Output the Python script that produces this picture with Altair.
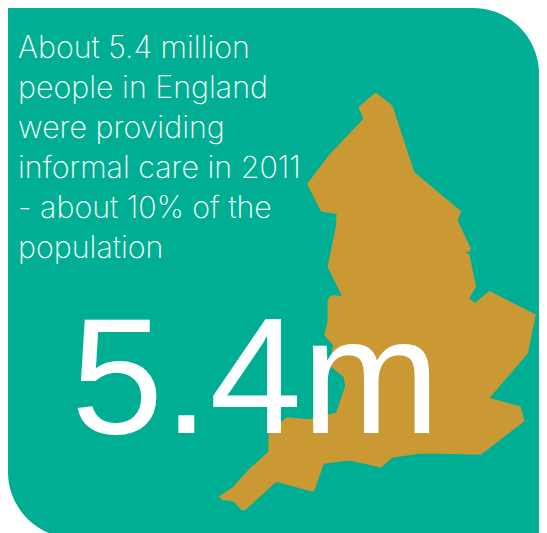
import altair as alt
import pandas as pd

W, H = 547, 533
TEAL = "#00AF93"
GOLD = "#CB9934"

# Outline of England, clockwise from the Northumberland coast
england_x = [375.7, 391.7, 413.7, 460.3, 456.7, 470, 468.3, 461, 468.7, 475.3, 468.3, 475, 489.3,
             535, 527.3, 488.3, 520, 523.7, 480.7, 453.3, 420.7, 391.7, 381, 350, 323.3, 313.3,
             276, 245, 241.7, 234, 222.7, 220, 232.7, 250, 269, 269.3, 286.7, 310, 336.7, 346,
             344.3, 330, 334, 325, 328.3, 328.3, 331.7, 343.3, 328.3, 336.7, 337.3, 321.7, 308,
             330, 364.3, 359.3, 375.7]
england_y = [93.3, 106, 172.7, 211.7, 220.7, 248.3, 251.3, 250.3, 255, 286.7, 298.3, 304, 291.7,
             315, 352.7, 398.3, 407.3, 420.7, 454, 453.3, 452.7, 457, 466.7, 459.7, 463, 491,
             481, 509.3, 509.3, 500.7, 499.3, 496.7, 488.3, 469.3, 452, 434, 418, 420, 413.3, 386,
             376.7, 365, 345, 335, 321.7, 300, 296, 296.7, 266.7, 226.7, 213.3, 211, 184,
             155, 119, 107.3, 93.3]
order = list(range(len(england_x)))

caption_lines = [
    "About 5.4 million",
    "people in England",
    "were providing",
    "informal care in 2011",
    "- about 10% of the",
    "population",
]
headline = "5.4m"

x_scale = alt.Scale(domain=[0, W], nice=False, zero=False)
y_scale = alt.Scale(domain=[H, 0], nice=False, zero=False)
x_enc = alt.X("x:Q", scale=x_scale, axis=None)
y_enc = alt.Y("y:Q", scale=y_scale, axis=None)

panel = (
    alt.Chart(pd.DataFrame({"x": [8], "x2": [539], "y": [8], "y2": [538]}))
    .mark_rect(color=TEAL, cornerRadiusTopRight=66, cornerRadiusBottomLeft=66)
    .encode(x=x_enc, x2="x2:Q", y=y_enc, y2="y2:Q")
)

country = (
    alt.Chart(pd.DataFrame({"x": england_x, "y": england_y, "o": order}))
    .mark_line(fill=GOLD, stroke=GOLD, strokeWidth=1.5, strokeJoin="round", clip=False)
    .encode(x=x_enc, y=y_enc, order="o:Q")
)

caption = (
    alt.Chart(pd.DataFrame({"line": caption_lines, "n": range(len(caption_lines))}))
    .transform_calculate(px="58 + 40 * datum.n")
    .mark_text(font="Inter", fontWeight=200, fontSize=30.4, color="white", align="left", baseline="alphabetic")
    .encode(x=alt.value(18), y=alt.Y("px:Q", scale=y_scale, axis=None), text="line:N")
)

big = (
    alt.Chart(pd.DataFrame({"t": [headline]}))
    .mark_text(font="Liberation Sans", fontSize=166, color="white", align="left", baseline="alphabetic")
    .encode(x=alt.value(71), y=alt.value(433), text="t:N")
)

chart = (
    alt.layer(panel, country, caption, big)
    .properties(width=W, height=H, padding=0, autosize=alt.AutoSizeParams(type="none"), background="white")
    .configure_view(strokeWidth=0)
)

chart.save("out.html", embed_options={"renderer": "svg", "actions": False})
